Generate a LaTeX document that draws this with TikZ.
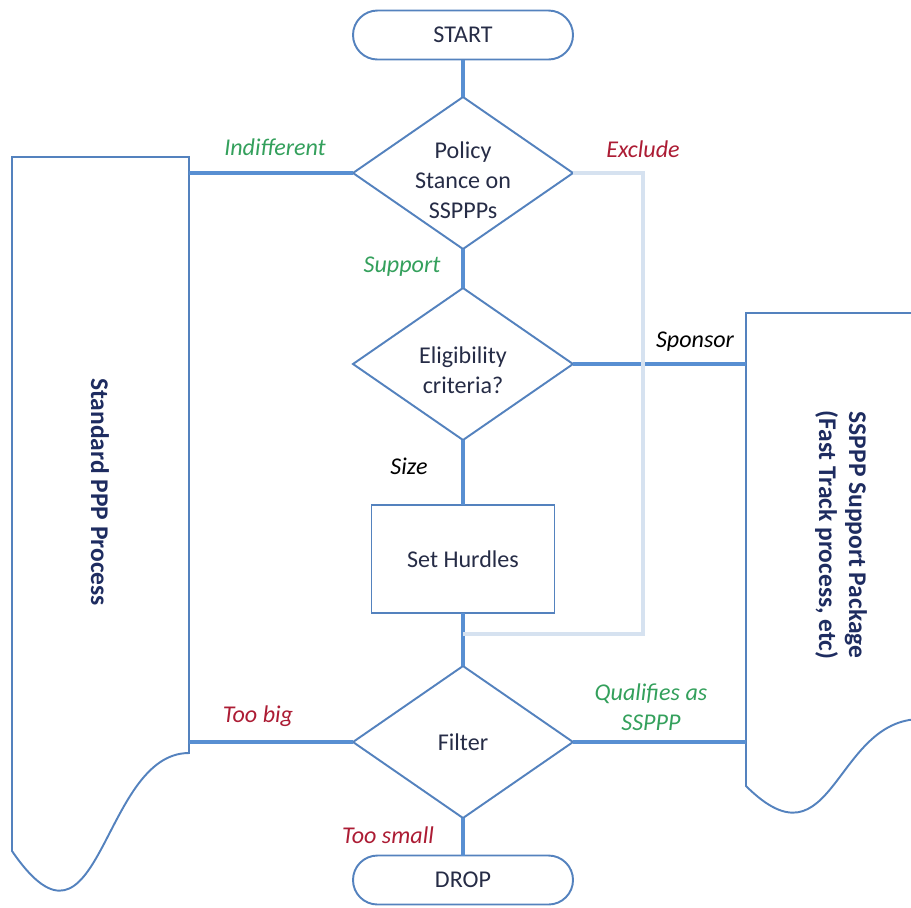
\documentclass[tikz,border=0pt]{standalone}
\usepackage{fontspec}
\setmainfont{Carlito}
\usetikzlibrary{positioning,calc,shapes.geometric}
\definecolor{edgeblue}{RGB}{84,130,190}
\definecolor{linkblue}{RGB}{88,143,210}
\definecolor{paleblue}{RGB}{214,226,240}
\definecolor{inktext}{RGB}{38,44,70}
\definecolor{boxtext}{RGB}{30,44,96}
\definecolor{yesgreen}{RGB}{52,160,92}
\definecolor{nored}{RGB}{172,28,52}

\begin{document}
\begin{tikzpicture}[x=0.2mm, y=-0.2mm,
  every node/.style={inner sep=0pt, outer sep=0pt, font=\fontsize{13.7pt}{17pt}\selectfont, text=inktext},
  term/.style={draw=edgeblue, line width=1.1pt, rounded corners=4.9mm, minimum width=4.4cm, minimum height=0.98cm},
  decide/.style={diamond, draw=edgeblue, line width=1.1pt, minimum width=4.4cm, minimum height=3.04cm},
  task/.style={draw=edgeblue, line width=1.1pt, minimum width=3.66cm, minimum height=2.16cm},
  link/.style={draw=linkblue, line width=2.3pt},
  excl/.style={draw=paleblue, line width=2.3pt},
  doc/.style={draw=edgeblue, line width=1.1pt},
  say/.style={font=\fontsize{13.7pt}{17pt}\selectfont\itshape, align=center},
  title/.style={font=\fontsize{14.5pt}{17pt}\selectfont\bfseries, text=boxtext, rotate=-90, align=center}]
  \useasboundingbox (0,0) rectangle (911,907);

  \draw[doc] (12,157) -- (189,157) -- (189,753)
    .. controls (100.5,753) and (100.5,980) .. (12,851) -- cycle;
  \begin{scope}
    \clip (0,0) rectangle (911,907);
    \draw[doc] (746,313) -- (921,313) -- (921,719)
      .. controls (833.5,719) and (833.5,873) .. (746,786) -- cycle;
  \end{scope}
  \coordinate (lb) at (189,157);
  \coordinate (rb) at (746,313);
  \coordinate (ex) at (643,634);

  \node[title] (std) at (100,492) {Standard PPP Process};
  \node[title] (fast) at (841,535) {SSPPP Support Package\\(Fast Track process, etc)};

  \node[term] (st) at (463,35) {START};
  \node[decide] (pol) at (463,173) {};
  \node[align=center] (polt) at (463,180) {Policy\\Stance on\\SSPPPs};
  \node[decide] (elig) at (463,364) {};
  \node[align=center] (eligt) at (463,370) {Eligibility\\criteria?};
  \node[task] (hur) at (463,559) {Set Hurdles};
  \node[decide] (filt) at (463,742) {Filter};
  \node[term] (dr) at (463,880) {DROP};

  \draw[link] (st) -- (pol);
  \draw[link] (pol.west) -- (pol.west -| lb);
  \draw[link] (pol) -- (elig);
  \draw[link] (elig.east) -- (elig.east -| rb);
  \draw[link] (elig) -- (hur);
  \draw[link] (hur) -- (filt);
  \draw[link] (filt.west) -- (filt.west -| lb);
  \draw[link] (filt.east) -- (filt.east -| rb);
  \draw[link] (filt) -- (dr);
  \draw[excl] (pol.east) -- (pol.east -| ex) -- (ex) -- (ex -| hur.south);

  \node[say, text=yesgreen] (lind) at (275,147) {Indifferent};
  \node[say, text=nored] (lexc) at (643,149) {Exclude};
  \node[say, text=yesgreen] (lsup) at (402,267) {Support};
  \node[say, text=black] (lspo) at (695,342) {Sponsor};
  \node[say, text=black] (lsiz) at (409,466) {Size};
  \node[say, text=nored] (lbig) at (258,716) {Too big};
  \node[say, text=yesgreen] (lqua) at (651,707) {Qualifies as\\SSPPP};
  \node[say, text=nored] (lsml) at (388,835) {Too small};
\end{tikzpicture}
\end{document}
